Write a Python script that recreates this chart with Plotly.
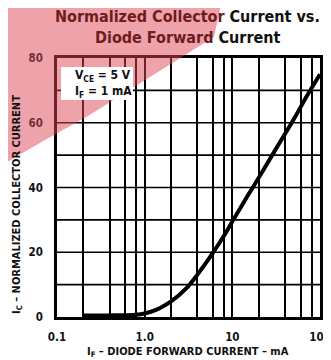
import plotly.graph_objects as go
import math

# ---- data ----
if_ma = [0.2, 0.4, 0.6, 0.8, 1.0, 1.2, 1.5, 2, 3, 4, 6, 8, 10, 15, 20, 30, 50, 70, 100]
ic_norm = [0.5, 0.5, 0.55, 0.7, 1.1, 1.7, 2.8, 4.8, 8.9, 13.1, 19.8, 25, 29.5, 37.5, 43, 51, 61, 68, 75]

x_tick_vals = [0.1, 1, 10, 100]
x_tick_text = ["0.1", "1.0", "10", "100"]
y_tick_vals = [0, 20, 40, 60, 80]
y_grid_vals = [10, 20, 30, 40, 50, 60, 70]
x_minor_mults = [2, 4, 6, 8]
decades = [0.1, 1, 10]

# page is drawn with an 8px body margin; work in page pixels and shift
OFF = 8
W, H = 331, 360
PL, PR, PT, PB = 57, 320, 58, 317          # plot frame in page pixels
L, T = PL - OFF, PT - OFF
R, B = W - (PR - OFF), H - (PB - OFF)
pw, ph = W - L - R, H - T - B

def px(x):
    return (x - OFF - L) / pw

def py(y):
    return (H - B - (y - OFF)) / ph

minor_vals = [round(d * m, 6) for d in decades for m in x_minor_mults]

FONT = "DejaVu Sans Condensed, Liberation Sans Narrow, Arial Narrow, sans-serif"
RED = "#6e1c1c"
PINK = "rgba(222,70,85,0.5)"

fig = go.Figure()

fig.add_trace(go.Scatter(x=if_ma, y=ic_norm, mode="lines",
                         line=dict(color="black", width=4, shape="spline", smoothing=1.0),
                         hoverinfo="skip", showlegend=False))

fig.update_xaxes(type="log", range=[-1, 2], tickvals=x_tick_vals, ticktext=x_tick_text,
                 showgrid=True, gridcolor="black", gridwidth=1.7,
                 minor=dict(tickvals=minor_vals, showgrid=True, gridcolor="black",
                            gridwidth=1.7, ticks=""),
                 showline=True, linecolor="black", linewidth=2.6, mirror=True,
                 ticks="", ticklabelstandoff=7, zeroline=False,
                 tickfont=dict(family=FONT, size=11.5, color="#111", weight="bold"))
fig.update_yaxes(range=[0, 80], tickvals=y_tick_vals,
                 showgrid=False, showline=True, linecolor="black", linewidth=2.6, mirror=True,
                 ticks="", ticklabelstandoff=9, zeroline=False,
                 tickfont=dict(family=FONT, size=11.5, color="#111", weight="bold"))
for yv in y_grid_vals:
    fig.add_shape(type="line", xref="paper", yref="y", x0=0, x1=1, y0=yv, y1=yv,
                  line=dict(color="black", width=1.7), layer="between")

# pink watermark
def poly(pts):
    return "M " + " L ".join(f"{px(a):.4f},{py(b):.4f}" for a, b in pts) + " Z"

fig.add_shape(type="path", xref="paper", yref="paper",
              path=poly([(0, 0), (222, 0), (214, 37), (193, 50), (150, 77),
                         (88, 116), (45, 140), (0, 166)]),
              fillcolor=PINK, line_width=0, layer="above")

# white label box pasted over grid and watermark
fig.add_shape(type="rect", xref="paper", yref="paper",
              x0=px(61), x1=px(133), y0=py(67), y1=py(100),
              fillcolor="white", line_width=0, layer="above")

ann_font = dict(family=FONT, size=16, color="#111", weight="bold")
fig.add_annotation(xref="paper", yref="paper", x=px(187), y=py(16),
                   text=f"<span style='color:{RED}'>Normalized Collector</span> Current vs.",
                   showarrow=False, font=ann_font, xanchor="center", yanchor="middle")
fig.add_annotation(xref="paper", yref="paper", x=px(187), y=py(38),
                   text=f"<span style='color:{RED}'>Diode Forward</span> Current",
                   showarrow=False, font=ann_font, xanchor="center", yanchor="middle")

lab_font = dict(family=FONT, size=11, color="#111", weight="bold")
fig.add_annotation(xref="paper", yref="paper", x=px(188), y=py(352),
                   text="I<sub>F</sub> – DIODE FORWARD CURRENT – mA",
                   showarrow=False, font=lab_font, xanchor="center", yanchor="middle")
fig.add_annotation(xref="paper", yref="paper", x=px(17), y=py(205),
                   text="I<sub>C</sub> – NORMALIZED COLLECTOR CURRENT", textangle=-90,
                   showarrow=False, font=lab_font, xanchor="center", yanchor="middle")

in_font = dict(family=FONT, size=12, color="#111", weight="bold")
fig.add_annotation(xref="paper", yref="paper", x=px(73), y=py(76),
                   text="V<sub>CE</sub> = 5 V", showarrow=False, font=in_font,
                   xanchor="left", yanchor="middle")
fig.add_annotation(xref="paper", yref="paper", x=px(73), y=py(92),
                   text="I<sub>F</sub> = 1 mA", showarrow=False, font=in_font,
                   xanchor="left", yanchor="middle")

fig.update_layout(width=W, height=H, margin=dict(l=L, r=R, t=T, b=B, autoexpand=False),
                  paper_bgcolor="white", plot_bgcolor="white", showlegend=False)

fig.write_html("out.html")
